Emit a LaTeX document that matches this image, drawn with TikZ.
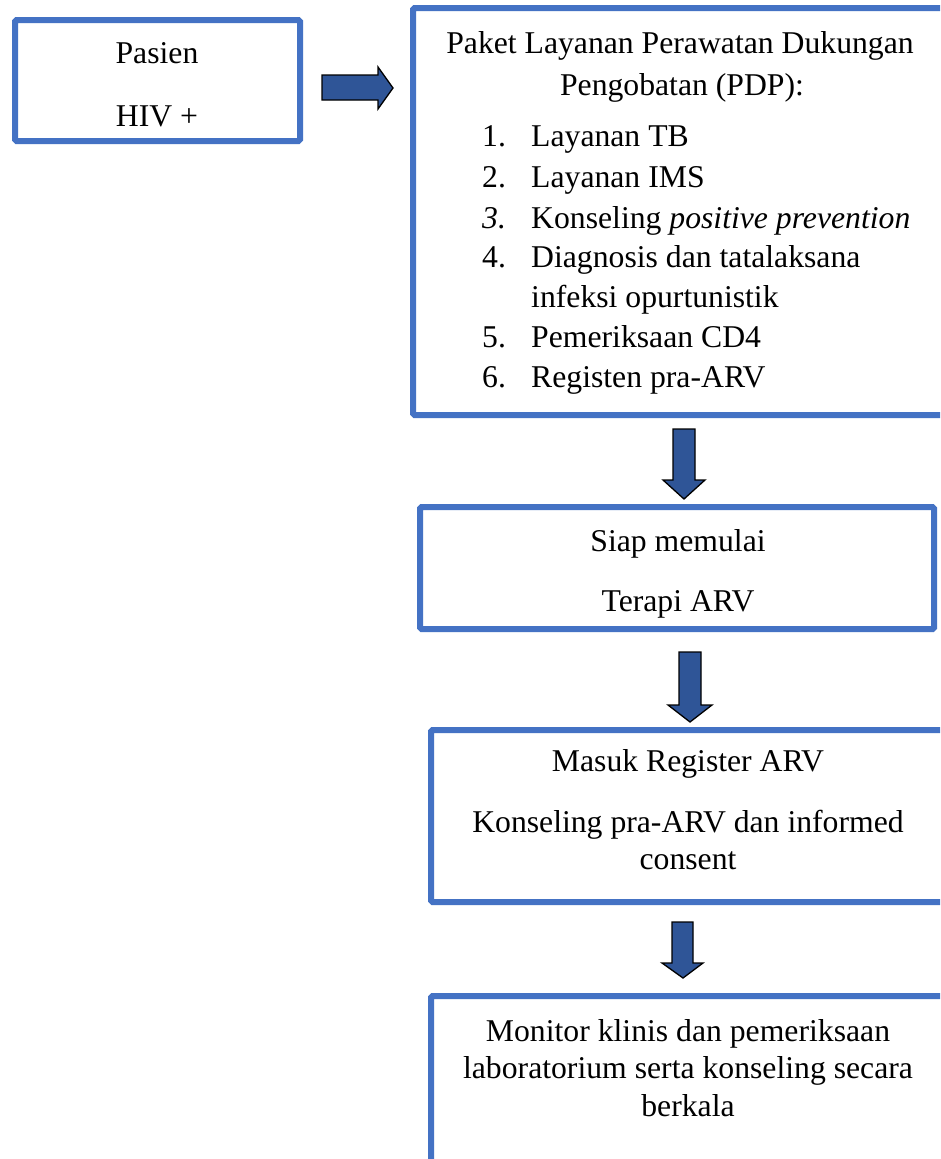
\documentclass[tikz,border=0pt]{standalone}
\usepackage{fontspec}
\setmainfont{Liberation Serif}
\definecolor{boxblue}{HTML}{4472C4}
\definecolor{arrowblue}{HTML}{2F5597}
\begin{document}
\begin{tikzpicture}[x=1pt,y=-1pt,
  box/.style={draw=boxblue, line width=6pt, rounded corners=1.5pt},
  txt/.style={anchor=base, inner sep=0pt, font=\fontsize{31.7}{38}\selectfont},
  txtl/.style={anchor=base west, inner sep=0pt, font=\fontsize{31.7}{38}\selectfont},
  blockarrow/.style={fill=arrowblue, draw=black, line width=1.3pt, line join=miter}]
\useasboundingbox (0,0) rectangle (940,1159);
\clip (0,0) rectangle (940,1159);
\fill[white] (0,0) rectangle (940,1159);
% boxes
\draw[box] (15,20) rectangle (300,141);
\draw[box] (413,8) rectangle (970,415);
\draw[box] (420,507) rectangle (934,629);
\draw[box] (431,730) rectangle (970,902);
\draw[box] (431,996) rectangle (970,1190);
% texts
\node[txt] (t1) at (157,63) {Pasien};
\node[txt] (t2) at (157,126) {HIV +};
\node[txt] (h1) at (680,53) {Paket Layanan Perawatan Dukungan};
\node[txt] (h2) at (682,95) {Pengobatan (PDP):};
\node[txtl] (n1) at (482,146) {1.};
\node[txtl] (l1) at (531,146) {Layanan TB};
\node[txtl] (n2) at (482,187) {2.};
\node[txtl] (l2) at (531,187) {Layanan IMS};
\node[txtl] (n3) at (482,228) {\itshape 3.};
\node[txtl] (l3) at (531,228) {Konseling \textit{positive prevention}};
\node[txtl] (n4) at (482,267) {4.};
\node[txtl] (l4) at (531,267) {Diagnosis dan tatalaksana};
\node[txtl] (l4b) at (531,307) {infeksi opurtunistik};
\node[txtl] (n5) at (482,347) {5.};
\node[txtl] (l5) at (531,347) {Pemeriksaan CD4};
\node[txtl] (n6) at (482,387) {6.};
\node[txtl] (l6) at (531,387) {Registen pra-ARV};
\node[txt] (s1) at (678,551) {Siap memulai};
\node[txt] (s2) at (678,611) {Terapi ARV};
\node[txt] (m1) at (688,771) {Masuk Register ARV};
\node[txt] (m2) at (688,832) {Konseling pra-ARV dan informed};
\node[txt] (m3) at (688,869) {consent};
\node[txt] (k1) at (688,1041) {Monitor klinis dan pemeriksaan};
\node[txt] (k2) at (688,1078) {laboratorium serta konseling secara};
\node[txt] (k3) at (688,1116) {berkala};
% block arrows
\draw[blockarrow] (322,75) -- (378,75) -- (378,67) -- (393,88) -- (378,109) -- (378,100) -- (322,100) -- cycle;
\draw[blockarrow] (673,429) -- (695,429) -- (695,480) -- (705,480) -- (684,499) -- (663,480) -- (673,480) -- cycle;
\draw[blockarrow] (679,652) -- (701,652) -- (701,705) -- (712,705) -- (690,722) -- (668,705) -- (679,705) -- cycle;
\draw[blockarrow] (672,922) -- (693,922) -- (693,963) -- (703,963) -- (683,978) -- (662,963) -- (672,963) -- cycle;
\end{tikzpicture}
\end{document}
